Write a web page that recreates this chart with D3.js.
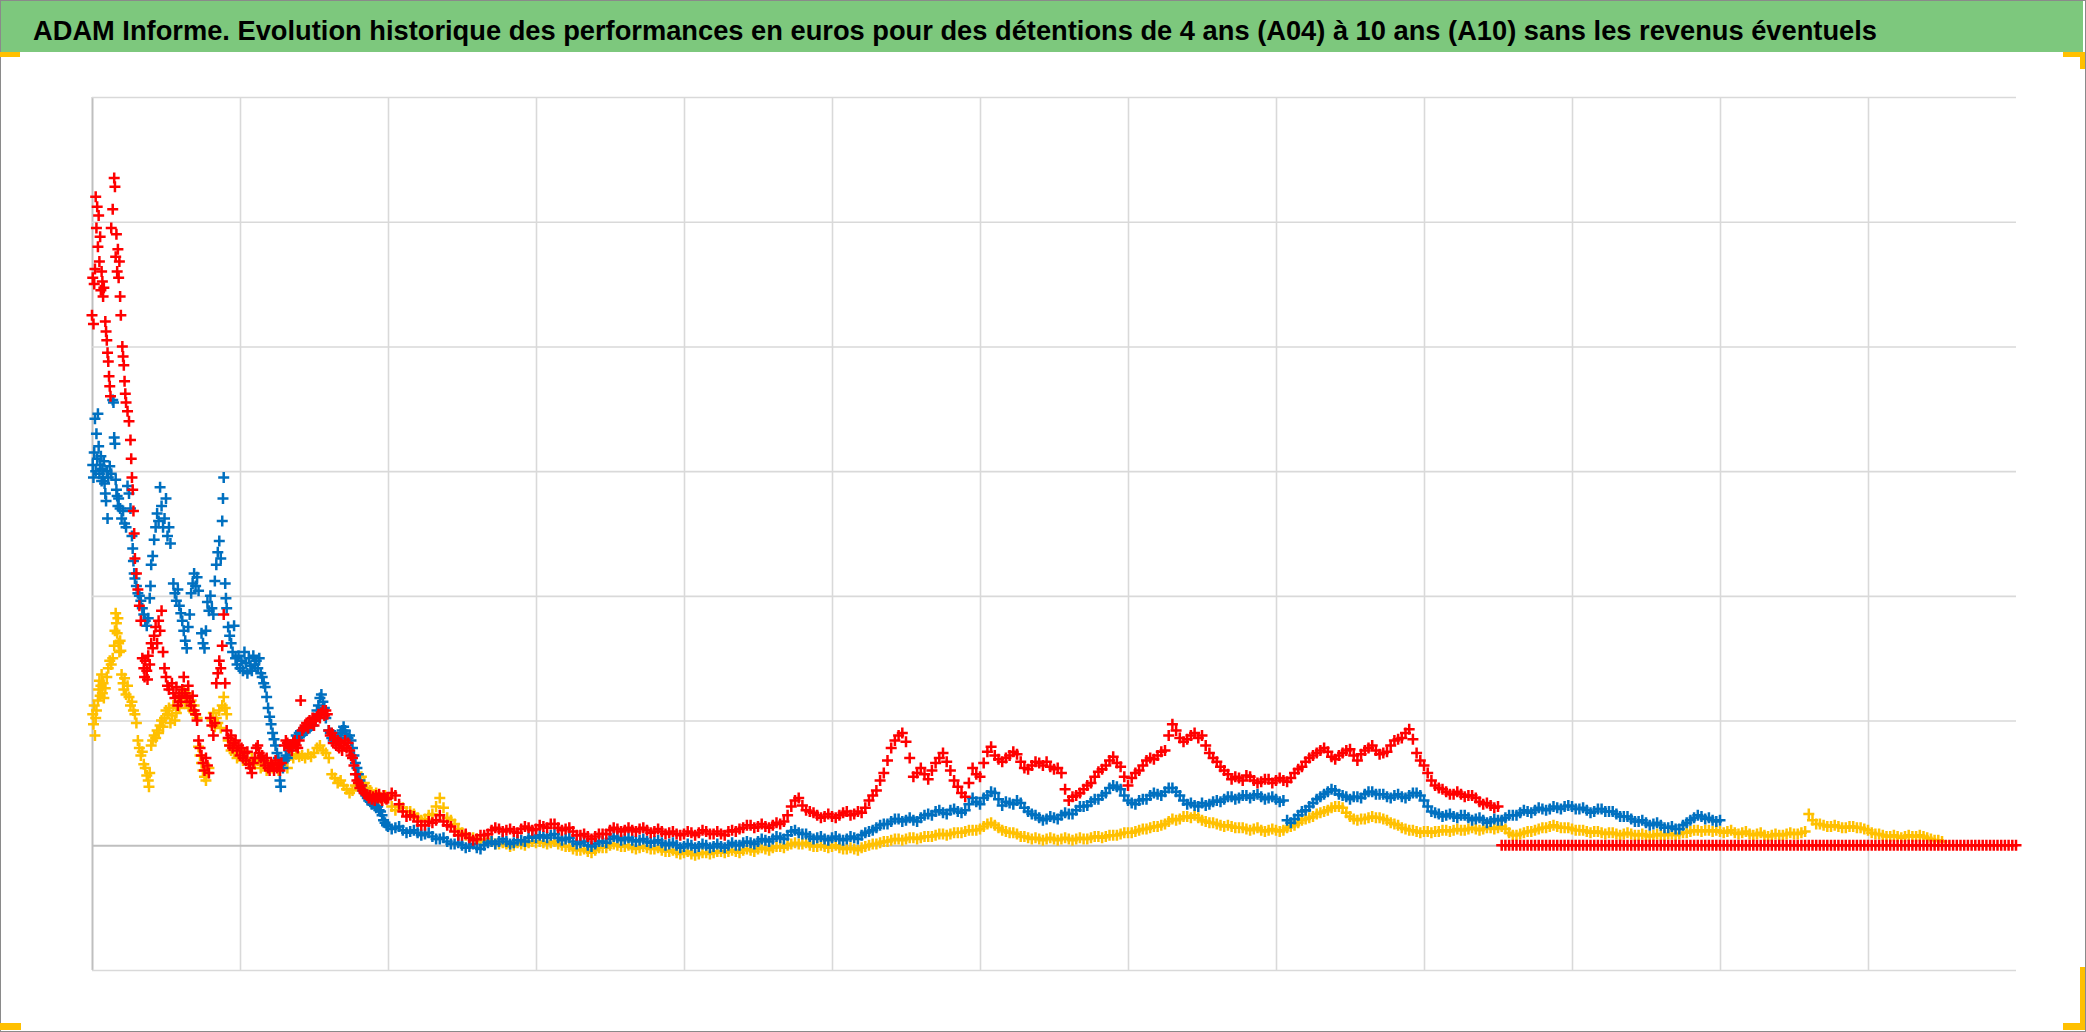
<!DOCTYPE html>
<html><head><meta charset="utf-8">
<script src="https://cdn.jsdelivr.net/npm/d3@7"></script>
<style>html,body{margin:0;padding:0;background:#fff;overflow:hidden}</style>
</head><body><svg id="c" width="2086" height="1032"></svg>
<script>
const title = "ADAM Informe. Evolution historique des performances en euros pour des détentions de 4 ans (A04) à 10 ans (A10) sans les revenus éventuels";

// x in period units (13 periods shown), y in value units
const xTicks = [0,1,2,3,4,5,6,7,8,9,10,11,12];
const yTicks = [-1,0,1,2,3,4,5,6];

// early, irregularly spaced observations [x, y]
const redEarly = [[0.000,4.25],[0.005,4.55],[0.010,4.18],[0.015,4.50],[0.020,4.62],
[0.025,5.20],[0.030,4.95],[0.035,5.12],[0.040,4.80],[0.045,5.05],[0.050,4.68],[0.055,4.88],[0.060,4.45],[0.065,4.60],[0.070,4.52],[0.075,4.40],[0.080,4.47],
[0.090,4.20],[0.095,4.12],[0.100,4.05],[0.105,3.95],[0.110,3.88],[0.115,3.76],[0.120,3.68],[0.125,3.60],
[0.130,4.95],[0.140,5.10],[0.150,5.35],[0.155,5.28],[0.160,4.72],[0.165,4.90],[0.170,4.60],[0.175,4.78],[0.180,4.55],[0.185,4.68],[0.190,4.40],[0.195,4.25],
[0.205,4.00],[0.210,3.92],[0.215,3.85],[0.220,3.72],[0.225,3.62],[0.230,3.55],[0.240,3.48],[0.250,3.40],
[0.260,3.25],[0.265,3.10],[0.270,2.95],[0.275,2.85],[0.280,2.68],[0.285,2.50],
[0.290,2.30],[0.300,2.18],[0.310,2.05],[0.320,1.92],[0.330,1.80],
[0.340,1.50],[0.350,1.42],[0.355,1.35],[0.360,1.48],[0.370,1.40],[0.375,1.33],[0.380,1.52],[0.390,1.45],[0.400,1.62],[0.410,1.58],[0.420,1.68],[0.430,1.75],[0.440,1.62],[0.450,1.80],[0.460,1.72],[0.470,1.88],[0.480,1.55],[0.490,1.42],[0.500,1.35],[0.510,1.28],[0.520,1.25],
[0.540,1.30],[0.550,1.22],[0.560,1.18],[0.570,1.27],[0.580,1.12],[0.590,1.20],[0.600,1.15],[0.610,1.25],[0.620,1.35],[0.630,1.22],[0.640,1.18],[0.650,1.28],[0.660,1.15],[0.670,1.12],[0.680,1.20],[0.690,1.08],[0.700,1.05],[0.710,1.00],
[0.720,0.84],[0.730,0.78],[0.740,0.72],[0.750,0.66],[0.760,0.60],[0.770,0.70],[0.780,0.64],[0.790,0.58],
[0.800,1.02],[0.810,0.96],[0.820,0.88],[0.830,0.98],
[0.840,1.30],[0.850,1.38],[0.860,1.48],[0.870,1.42],[0.880,1.60],[0.890,1.85],[0.900,1.30],
[0.910,0.92],[0.920,0.86],[0.930,0.80],[0.940,0.88],[0.950,0.78],[0.960,0.82],
[0.970,0.84],[0.980,0.76],[0.990,0.80],[1.000,0.72],[1.010,0.78],[1.020,0.70],[1.030,0.74],[1.040,0.68],[1.050,0.75],[1.060,0.65],[1.070,0.62],[1.080,0.58],[1.090,0.66],[1.100,0.70],[1.110,0.78],[1.120,0.80],[1.130,0.74],[1.140,0.70],[1.150,0.72],
[1.160,0.68],[1.170,0.64],[1.180,0.70],[1.190,0.62],[1.200,0.60],[1.210,0.66],[1.220,0.64],[1.230,0.60],[1.240,0.68],[1.250,0.62],[1.260,0.65],[1.270,0.60],[1.280,0.66],
[1.300,0.80],[1.310,0.84],[1.320,0.82],[1.330,0.78],[1.340,0.80],[1.350,0.76],[1.360,0.82],[1.370,0.84],[1.380,0.80],[1.390,0.78],[1.400,0.84],[1.410,1.16],[1.420,0.92],
[1.430,0.94],[1.440,0.96],[1.450,0.98],[1.460,0.94],[1.470,1.00],[1.480,0.98],[1.490,1.02],[1.500,0.96],[1.510,1.00],[1.520,1.03],[1.530,1.05],[1.540,1.02],[1.550,1.06],[1.560,1.08],[1.570,1.04],[1.580,1.08],[1.590,1.05],
[1.600,0.92],[1.610,0.88],[1.620,0.90],[1.630,0.82],[1.640,0.86],[1.650,0.80],[1.660,0.84],[1.670,0.78],[1.680,0.82],[1.690,0.76],[1.700,0.80],[1.710,0.84],[1.720,0.78],[1.730,0.82],[1.740,0.76],[1.750,0.72],[1.760,0.70],[1.770,0.64],
[1.780,0.57],[1.790,0.52],[1.800,0.50],[1.810,0.46],[1.820,0.48],[1.830,0.44],[1.840,0.42],[1.850,0.41],
[1.860,0.40],[1.870,0.38],[1.880,0.40],[1.890,0.37],[1.900,0.39],[1.910,0.36],[1.920,0.40],[1.930,0.38],[1.940,0.41],[1.950,0.38],[1.960,0.36],[1.970,0.40],[1.980,0.38],[1.990,0.37]];

const blueEarly = [[0.005,3.05],[0.010,2.95],[0.015,3.15],[0.020,3.42],[0.025,3.00],[0.030,3.30],[0.035,3.10],[0.040,3.46],[0.045,3.20],[0.050,2.98],[0.055,3.05],[0.060,3.12],[0.065,2.92],[0.070,3.02],[0.075,2.95],[0.080,3.08],[0.085,2.90],[0.090,2.82],[0.095,2.76],[0.100,3.00],[0.105,2.62],[0.110,2.95],[0.120,3.04],[0.130,2.98],[0.140,3.57],[0.145,3.55],[0.150,3.27],[0.155,3.22],[0.160,2.93],[0.165,2.85],[0.170,2.80],[0.175,2.72],[0.180,2.78],[0.190,2.70],[0.200,2.62],[0.210,2.68],[0.220,2.58],[0.230,2.55],[0.240,2.88],[0.250,2.82],[0.260,2.70],
[0.270,2.48],[0.275,2.38],[0.280,2.28],[0.285,2.18],[0.290,2.14],[0.300,2.08],[0.310,2.02],[0.320,2.00],[0.330,1.96],[0.340,1.90],[0.350,1.85],[0.360,1.80],[0.370,1.76],[0.380,1.82],[0.390,1.98],[0.395,2.08],[0.400,2.25],[0.410,2.32],[0.420,2.45],[0.430,2.55],[0.440,2.66],[0.450,2.60],[0.460,2.87],[0.470,2.72],[0.480,2.55],[0.490,2.62],[0.500,2.78],[0.510,2.48],[0.520,2.55],[0.530,2.42],
[0.550,2.10],[0.560,2.02],[0.570,1.96],[0.580,2.05],[0.590,1.92],[0.600,1.86],[0.610,1.80],[0.620,1.72],[0.630,1.64],[0.640,1.58],[0.650,1.75],[0.660,1.85],[0.670,2.02],[0.680,2.10],[0.690,2.18],[0.700,2.08],[0.710,2.15],[0.720,2.04],
[0.740,1.70],[0.750,1.62],[0.760,1.58],[0.770,1.72],[0.780,1.95],[0.790,1.88],[0.800,2.00],[0.810,1.90],[0.820,1.85],
[0.830,2.12],[0.840,2.25],[0.850,2.35],[0.860,2.44],[0.870,2.30],[0.880,2.60],[0.885,2.78],[0.890,2.95],[0.900,2.10],[0.905,1.98],[0.910,1.90],[0.920,1.75],[0.930,1.68],[0.940,1.62],[0.950,1.55],[0.960,1.76],[0.970,1.50],[0.980,1.45],[0.990,1.52],[1.000,1.42],[1.010,1.48],[1.020,1.40],[1.030,1.55],[1.040,1.46],[1.050,1.38],[1.060,1.50],[1.070,1.44],[1.080,1.40],[1.090,1.52],[1.100,1.45],[1.110,1.48],[1.120,1.42],[1.130,1.50],[1.140,1.38],[1.150,1.35],[1.160,1.30],[1.170,1.27],
[1.180,1.19],[1.190,1.10],[1.200,1.03],[1.210,0.97],[1.220,0.90],[1.230,0.85],[1.240,0.80],[1.250,0.74],[1.260,0.70],[1.270,0.52],[1.275,0.47],
[1.290,0.62],[1.300,0.68],[1.310,0.72],[1.320,0.70],[1.330,0.76],[1.340,0.80],[1.350,0.78],[1.360,0.84],[1.370,0.82],[1.380,0.88],[1.390,0.86],[1.400,0.90],[1.410,0.88],[1.420,0.92],[1.430,0.90],[1.440,0.95],[1.450,0.92],[1.460,0.96],[1.470,0.94],[1.480,0.98],[1.490,0.96],[1.500,1.02],[1.510,1.00],[1.520,1.08],[1.530,1.12],[1.540,1.18],[1.550,1.21],[1.560,1.15],[1.570,1.10],[1.580,1.02],
[1.600,0.92],[1.610,0.90],[1.620,0.86],[1.630,0.84],[1.640,0.88],[1.650,0.82],[1.660,0.86],[1.670,0.84],[1.680,0.90],[1.690,0.92],[1.700,0.95],[1.710,0.92],[1.720,0.88],[1.730,0.86],[1.740,0.88],[1.750,0.84],
[1.760,0.78],[1.770,0.72],[1.780,0.66],[1.790,0.62],[1.800,0.57],[1.810,0.52],[1.820,0.48],[1.830,0.44],[1.840,0.42],[1.850,0.40],[1.860,0.38],[1.870,0.36],[1.880,0.35],[1.890,0.33],[1.900,0.34],[1.910,0.32],[1.920,0.30],[1.930,0.31],[1.940,0.28],[1.950,0.27],[1.960,0.24],[1.970,0.20],[1.980,0.18],[1.990,0.16]];

const yellowEarly = [[0.005,1.05],[0.010,0.97],[0.015,1.12],[0.020,0.88],[0.025,1.02],[0.030,1.08],[0.040,1.16],[0.045,1.25],[0.050,1.32],[0.055,1.20],[0.060,1.28],[0.065,1.37],[0.070,1.22],[0.075,1.30],[0.080,1.18],[0.090,1.26],[0.100,1.35],[0.110,1.42],[0.120,1.48],[0.130,1.45],[0.140,1.50],[0.150,1.60],[0.155,1.72],[0.160,1.86],[0.165,1.78],[0.170,1.70],[0.175,1.82],[0.180,1.62],[0.185,1.55],[0.190,1.64],[0.195,1.56],
[0.200,1.37],[0.210,1.30],[0.215,1.25],[0.220,1.34],[0.230,1.21],[0.240,1.28],[0.250,1.19],[0.260,1.12],[0.270,1.15],[0.280,1.08],[0.290,1.05],[0.300,0.98],
[0.310,0.84],[0.320,0.78],[0.330,0.72],[0.340,0.75],[0.350,0.65],[0.360,0.62],[0.370,0.56],[0.380,0.52],[0.385,0.47],[0.390,0.58],
[0.400,0.80],[0.410,0.84],[0.420,0.88],[0.430,0.86],[0.440,0.92],[0.450,0.90],[0.460,0.96],[0.470,1.00],[0.480,0.95],[0.490,1.02],[0.500,1.08],[0.510,1.05],[0.520,1.10],[0.530,0.98],[0.540,1.04],[0.550,1.12],[0.560,1.00],[0.570,1.06],
[0.580,1.15],[0.590,1.10],[0.600,1.20],[0.610,1.18],[0.620,1.24],[0.630,1.14],[0.640,1.20],[0.650,1.22],[0.660,1.10],[0.670,1.16],[0.680,1.08],[0.690,1.12],[0.700,1.05],[0.710,1.02],
[0.720,0.79],[0.730,0.72],[0.740,0.66],[0.750,0.60],[0.760,0.55],[0.770,0.52],[0.780,0.58],[0.790,0.62],
[0.810,1.00],[0.820,1.06],[0.830,0.95],[0.840,1.02],[0.850,0.98],[0.860,1.08],[0.870,0.94],[0.880,1.12],[0.890,1.19],[0.900,1.10],[0.910,1.05],
[0.920,0.84],[0.930,0.80],[0.940,0.76],[0.950,0.82],[0.960,0.74],[0.970,0.78],[0.980,0.70],[0.990,0.76],[1.000,0.72],[1.020,0.68],[1.040,0.74],[1.060,0.66],[1.080,0.70],[1.100,0.65],
[1.120,0.68],[1.140,0.62],[1.160,0.66],[1.180,0.60],[1.200,0.64],[1.220,0.62],[1.240,0.66],[1.260,0.60],[1.280,0.64],[1.300,0.68],[1.320,0.62],
[1.340,0.72],[1.360,0.70],[1.380,0.73],[1.400,0.71],[1.420,0.72],[1.440,0.70],[1.460,0.73],[1.480,0.71],[1.500,0.74],
[1.520,0.78],[1.540,0.80],[1.560,0.76],[1.580,0.74],[1.600,0.70],
[1.620,0.57],[1.640,0.54],[1.660,0.50],[1.680,0.52],[1.700,0.48],[1.720,0.45],[1.740,0.42],[1.760,0.44],[1.780,0.48],[1.800,0.52],[1.820,0.55],[1.840,0.50],[1.860,0.46],[1.880,0.44],[1.900,0.40],[1.920,0.42],[1.940,0.38],[1.960,0.36],[1.980,0.40]];

// regular observations from x = 2.000, every 0.05 ...
const regStart = 2.0, regStep = 0.05;
// ... and the observations in between (x = 2.025, 2.075, ...)
const midStart = 2.025;

const redValues = [
0.38,0.40,0.27,0.24,0.19,0.16,0.18,0.24,0.16,0.11,
0.08,0.06,0.05,0.08,0.12,0.13,0.12,0.11,0.13,0.14,
0.13,0.15,0.17,0.14,0.13,0.11,0.08,0.07,0.07,0.09,
0.12,0.13,0.12,0.12,0.13,0.12,0.11,0.11,0.10,0.09,
0.09,0.10,0.10,0.11,0.09,0.09,0.11,0.11,0.14,0.16,
0.15,0.15,0.16,0.17,0.24,0.36,0.32,0.27,0.24,0.23,
0.23,0.24,0.27,0.25,0.26,0.36,0.44,0.58,0.78,0.88,
0.83,0.55,0.62,0.53,0.66,0.74,0.60,0.47,0.39,0.62,
0.55,0.75,0.72,0.67,0.72,0.73,0.62,0.64,0.66,0.67,
0.61,0.58,0.36,0.40,0.45,0.50,0.59,0.64,0.71,0.63,
0.48,0.58,0.64,0.70,0.72,0.76,0.97,0.86,0.85,0.90,
0.88,0.74,0.67,0.60,0.53,0.54,0.56,0.52,0.51,0.53,
0.52,0.52,0.54,0.61,0.67,0.72,0.76,0.75,0.69,0.74,
0.77,0.68,0.76,0.80,0.73,0.75,0.84,0.86,0.93,0.74,
0.64,0.52,0.46,0.43,0.41,0.41,0.40,0.38,0.33,0.32,
0.31,
0,0,0,0,0,0,0,0,0,0,
0,0,0,0,0,0,0,0,0,0,
0,0,0,0,0,0,0,0,0,0,
0,0,0,0,0,0,0,0,0,0,
0,0,0,0,0,0,0,0,0,0,
0,0,0,0,0,0,0,0,0,0,
0,0,0,0,0,0,0,0,0,0];
const redMid = [
0.42,0.33,0.23,0.23,0.16,0.19,0.20,0.19,0.15,0.08,
0.09,0.04,0.08,0.09,0.14,0.11,0.13,0.10,0.15,0.12,
0.16,0.14,0.17,0.12,0.14,0.08,0.09,0.05,0.09,0.09,
0.14,0.11,0.14,0.11,0.14,0.10,0.13,0.09,0.11,0.08,
0.11,0.08,0.12,0.09,0.11,0.08,0.12,0.13,0.16,0.14,
0.17,0.14,0.18,0.19,0.31,0.38,0.28,0.26,0.22,0.25,
0.22,0.26,0.24,0.27,0.30,0.40,0.52,0.68,0.84,0.90,
0.70,0.58,0.57,0.60,0.70,0.67,0.52,0.42,0.50,0.57,
0.66,0.79,0.69,0.70,0.75,0.67,0.61,0.67,0.64,0.63,
0.62,0.45,0.39,0.42,0.48,0.55,0.61,0.68,0.66,0.55,
0.54,0.60,0.68,0.69,0.75,0.88,0.92,0.83,0.88,0.86,
0.80,0.70,0.63,0.57,0.55,0.52,0.55,0.50,0.53,0.50,
0.54,0.51,0.58,0.63,0.70,0.74,0.78,0.71,0.72,0.76,
0.72,0.73,0.78,0.76,0.74,0.80,0.85,0.90,0.85,0.68,
0.58,0.48,0.45,0.41,0.43,0.39,0.40,0.35,0.34,0.30,
0,0,0,0,0,0,0,0,0,0,
0,0,0,0,0,0,0,0,0,0,
0,0,0,0,0,0,0,0,0,0,
0,0,0,0,0,0,0,0,0,0,
0,0,0,0,0,0,0,0,0,0,
0,0,0,0,0,0,0,0,0,0,
0,0,0,0,0,0,0,0,0,0];

const blueValues = [
0.15,0.14,0.12,0.11,0.10,0.09,0.07,0.05,0.03,0.01,
0.00,-0.01,-0.02,0.00,0.03,0.03,0.03,0.02,0.04,0.06,
0.06,0.07,0.08,0.06,0.05,0.03,0.02,0.00,0.01,0.03,
0.05,0.06,0.05,0.04,0.04,0.03,0.03,0.02,0.01,0.00,
-0.01,0.00,-0.01,0.00,-0.01,-0.01,0.00,0.00,0.02,0.02,
0.03,0.04,0.05,0.06,0.08,0.12,0.09,0.07,0.06,0.05,
0.06,0.05,0.05,0.06,0.08,0.11,0.14,0.17,0.19,0.21,
0.20,0.20,0.22,0.25,0.27,0.26,0.28,0.27,0.28,0.38,
0.33,0.40,0.42,0.32,0.34,0.36,0.30,0.25,0.22,0.21,
0.22,0.24,0.25,0.28,0.31,0.35,0.37,0.42,0.48,0.45,
0.36,0.33,0.37,0.40,0.41,0.43,0.46,0.40,0.33,0.32,
0.34,0.33,0.36,0.37,0.39,0.38,0.40,0.40,0.39,0.38,
0.37,0.36,0.18,0.24,0.28,0.34,0.39,0.43,0.44,0.40,
0.37,0.39,0.41,0.43,0.41,0.39,0.40,0.39,0.40,0.42,
0.36,0.27,0.25,0.24,0.23,0.24,0.22,0.21,0.20,0.19,
0.20,0.22,0.24,0.26,0.27,0.28,0.29,0.29,0.30,0.31,
0.31,0.29,0.28,0.27,0.29,0.27,0.25,0.23,0.21,0.19,
0.18,0.17,0.16,0.14,0.13,0.16,0.20,0.24,0.21,0.20,
0.20];
const blueMid = [
0.13,0.15,0.10,0.12,0.08,0.10,0.05,0.06,0.01,0.02,
-0.02,0.01,-0.03,0.02,0.01,0.05,0.01,0.04,0.03,0.07,
0.08,0.06,0.09,0.04,0.06,0.01,0.03,-0.01,0.03,0.02,
0.07,0.04,0.06,0.03,0.05,0.02,0.04,0.00,0.02,-0.02,
0.01,-0.02,0.01,-0.02,0.01,-0.02,0.02,0.00,0.03,0.01,
0.05,0.03,0.07,0.05,0.11,0.10,0.09,0.05,0.07,0.04,
0.07,0.04,0.07,0.05,0.10,0.12,0.16,0.17,0.21,0.19,
0.22,0.19,0.24,0.24,0.28,0.25,0.29,0.26,0.33,0.35,
0.38,0.43,0.37,0.35,0.33,0.34,0.27,0.24,0.20,0.23,
0.21,0.26,0.25,0.31,0.32,0.37,0.40,0.46,0.47,0.40,
0.34,0.36,0.37,0.42,0.40,0.46,0.43,0.36,0.34,0.31,
0.32,0.35,0.35,0.39,0.37,0.40,0.38,0.41,0.37,0.39,
0.35,0.20,0.21,0.27,0.31,0.37,0.41,0.45,0.41,0.39,
0.39,0.38,0.43,0.41,0.41,0.38,0.41,0.38,0.42,0.40,
0.31,0.26,0.23,0.25,0.22,0.24,0.20,0.22,0.18,0.21,
0.20,0.24,0.24,0.28,0.26,0.30,0.28,0.31,0.29,0.32,
0.29,0.30,0.26,0.29,0.27,0.27,0.23,0.23,0.19,0.20,
0.16,0.18,0.14,0.15,0.13,0.18,0.22,0.23,0.22,0.19];

const yellowValues = [
0.38,0.28,0.30,0.27,0.22,0.21,0.25,0.38,0.22,0.17,
0.10,0.06,0.05,0.04,0.03,0.01,0.01,0.00,0.01,0.02,
0.02,0.02,0.02,0.01,-0.01,-0.03,-0.04,-0.05,-0.04,-0.02,
0.00,0.00,-0.01,-0.02,-0.02,-0.02,-0.03,-0.04,-0.05,-0.06,
-0.06,-0.07,-0.07,-0.06,-0.06,-0.05,-0.05,-0.05,-0.04,-0.04,
-0.03,-0.03,-0.02,-0.01,0.00,0.02,0.01,0.00,-0.01,-0.01,
-0.01,-0.02,-0.03,-0.03,-0.02,0.00,0.01,0.03,0.04,0.05,
0.05,0.06,0.06,0.07,0.08,0.09,0.09,0.10,0.11,0.12,
0.13,0.17,0.16,0.12,0.10,0.09,0.07,0.05,0.05,0.05,
0.05,0.05,0.05,0.05,0.05,0.06,0.07,0.07,0.08,0.09,
0.10,0.11,0.13,0.14,0.15,0.17,0.21,0.21,0.23,0.24,
0.20,0.18,0.17,0.15,0.15,0.14,0.13,0.13,0.12,0.12,
0.12,0.12,0.15,0.18,0.21,0.23,0.26,0.28,0.31,0.30,
0.23,0.20,0.21,0.23,0.22,0.20,0.17,0.14,0.12,0.11,
0.11,0.10,0.11,0.12,0.12,0.12,0.13,0.13,0.13,0.14,
0.14,0.13,0.08,0.09,0.11,0.12,0.14,0.15,0.15,0.14,
0.13,0.12,0.11,0.11,0.10,0.10,0.09,0.09,0.09,0.08,
0.08,0.08,0.08,0.09,0.08,0.10,0.11,0.12,0.12,0.11,
0.11,0.11,0.10,0.10,0.09,0.09,0.08,0.08,0.08,0.09,
0.09,0.10,0.25,0.17,0.16,0.15,0.15,0.14,0.15,0.14,
0.12,0.09,0.08,0.07,0.07,0.07,0.07,0.08,0.06,0.04,
0.03];
const yellowMid = [
0.31,0.31,0.27,0.25,0.20,0.24,0.31,0.30,0.20,0.13,
0.08,0.06,0.03,0.05,0.01,0.02,-0.01,0.02,0.00,0.03,
0.03,0.01,0.03,0.00,-0.01,-0.04,-0.03,-0.06,-0.02,-0.02,
0.01,-0.01,0.00,-0.03,-0.01,-0.03,-0.02,-0.05,-0.04,-0.07,
-0.05,-0.08,-0.06,-0.07,-0.05,-0.06,-0.04,-0.06,-0.03,-0.05,
-0.02,-0.04,-0.01,-0.02,0.01,0.01,0.02,-0.01,0.00,-0.02,
0.00,-0.03,-0.02,-0.04,-0.01,0.01,0.02,0.03,0.05,0.04,
0.06,0.05,0.07,0.07,0.09,0.08,0.10,0.10,0.12,0.12,
0.15,0.18,0.14,0.11,0.10,0.07,0.06,0.06,0.04,0.06,
0.04,0.06,0.04,0.06,0.05,0.07,0.06,0.08,0.08,0.10,
0.10,0.12,0.13,0.15,0.16,0.19,0.20,0.23,0.22,0.22,
0.19,0.18,0.16,0.16,0.14,0.14,0.12,0.14,0.11,0.13,
0.11,0.14,0.16,0.20,0.22,0.25,0.27,0.30,0.31,0.26,
0.21,0.21,0.22,0.22,0.21,0.18,0.16,0.13,0.12,0.10,
0.11,0.11,0.12,0.11,0.13,0.12,0.14,0.12,0.14,0.13,
0.15,0.10,0.08,0.10,0.11,0.13,0.14,0.16,0.14,0.14,
0.12,0.12,0.10,0.11,0.09,0.10,0.08,0.10,0.08,0.09,
0.07,0.09,0.08,0.09,0.09,0.10,0.12,0.11,0.12,0.12,
0.10,0.12,0.09,0.11,0.08,0.10,0.07,0.09,0.08,0.10,
0.09,0.11,0.20,0.17,0.15,0.16,0.14,0.15,0.14,0.13,
0.10,0.09,0.07,0.08,0.06,0.08,0.07,0.07,0.05,0.04];

const seriesColors = {yellow:"#FFC000", blue:"#0070C0", red:"#FF0000"};

// ---------- drawing ----------
const W = 2086, H = 1032;
const svg = d3.select("#c");
const P = {left:92, right:2016, top:97, bottom:970};

svg.append("rect").attr("x",0).attr("y",0).attr("width",W).attr("height",H).attr("fill","#fff");
svg.append("rect").attr("x",1).attr("y",1).attr("width",2082).attr("height",51).attr("fill","#7dc87d");
svg.append("rect").attr("x",0.5).attr("y",0.5).attr("width",W-1).attr("height",H-1)
  .attr("fill","none").attr("stroke","#8a8a8a").attr("stroke-width",1);

const titleText = svg.append("text").attr("x",33).attr("y",40)
  .attr("font-family","'Liberation Sans Narrow','Arial Narrow','Liberation Sans',sans-serif")
  .attr("font-weight","bold").attr("font-size",32).attr("fill","#000")
  .text(title);
const natural = titleText.node().getComputedTextLength();
if (natural > 1845) titleText.attr("font-size", 32*1845/natural);

const x = d3.scaleLinear().domain([0,13]).range([P.left,P.right]);
const y = d3.scaleLinear().domain([-1,6]).range([P.bottom,P.top]);

const gx = svg.append("g").attr("transform",`translate(0,${P.bottom})`)
  .call(d3.axisBottom(x).tickValues(xTicks).tickSize(-(P.bottom-P.top)).tickFormat(""));
gx.select(".domain").remove();
gx.selectAll(".tick line").attr("stroke","#d9d9d9").attr("stroke-width",1.6);
gx.selectAll(".tick").filter(d=>d===0).select("line").attr("stroke","#bfbfbf").attr("stroke-width",2);

const gy = svg.append("g").attr("transform",`translate(${P.left},0)`)
  .call(d3.axisLeft(y).tickValues(yTicks).tickSize(-(P.right-P.left)).tickFormat(""));
gy.select(".domain").remove();
gy.selectAll(".tick line").attr("stroke","#d9d9d9").attr("stroke-width",1.6);
gy.selectAll(".tick").filter(d=>d===0).select("line").attr("stroke","#bfbfbf").attr("stroke-width",2);

function buildPoints(early, values, mids){
  const reg = values.map((v,i)=>({u: regStart + i*regStep, v}));
  const mid = mids.map((v,i)=>({u: midStart + i*regStep, v}));
  return early.map(([u,v])=>({u,v})).concat(reg, mid).sort((a,b)=>a.u-b.u);
}
const plus = "M-5.5,0H5.5M0,-5.5V5.5";
function drawSeries(points, color){
  svg.append("g").selectAll("path").data(points).join("path")
    .attr("d",plus)
    .attr("transform",d=>`translate(${x(d.u)},${y(d.v)})`)
    .attr("fill","none").attr("stroke",color).attr("stroke-width",2.5);
}
drawSeries(buildPoints(yellowEarly, yellowValues, yellowMid), seriesColors.yellow);
drawSeries(buildPoints(blueEarly, blueValues, blueMid), seriesColors.blue);
drawSeries(buildPoints(redEarly, redValues, redMid), seriesColors.red);

// orange corner handles
const orange = "#FFC000";
[[0,52,20,5],[2063,52,22,5],[2080,52,5,17],[0,1023,21,7],[2080,967,5,63],[2063,1023,22,7]]
  .forEach(([a,b,c,d])=>svg.append("rect").attr("x",a).attr("y",b).attr("width",c).attr("height",d).attr("fill",orange));
</script></body></html>
